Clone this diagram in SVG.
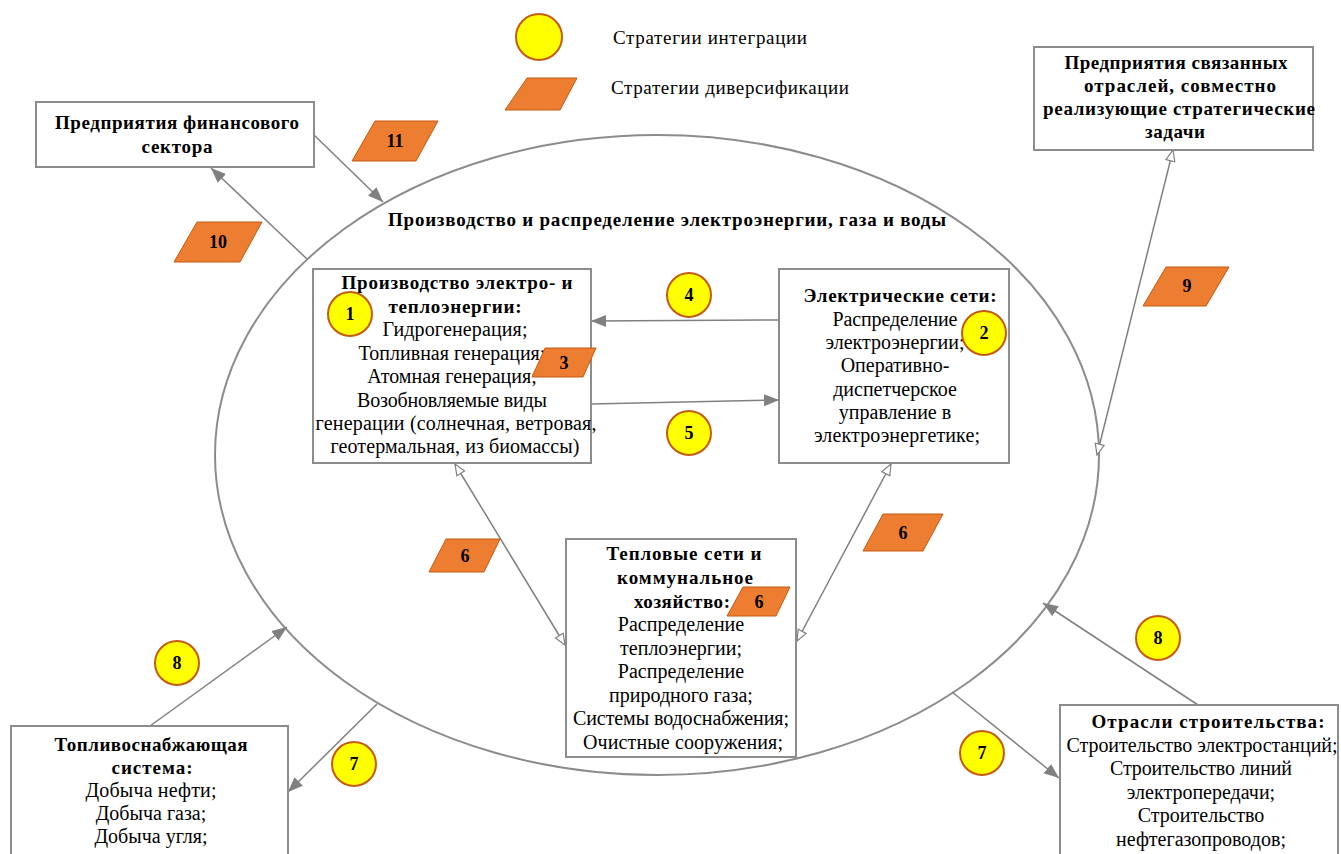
<svg xmlns="http://www.w3.org/2000/svg" width="1341" height="854" viewBox="0 0 1341 854">
<style>
.box{fill:#fff;stroke:#8c8c8c;stroke-width:2}
.t{font-family:"Liberation Serif","Times New Roman",serif;font-size:20px;fill:#000;text-anchor:middle}
.b{font-weight:bold;font-size:19px}
.lg{font-family:"Liberation Serif","Times New Roman",serif;font-size:19px;fill:#000}
.c{fill:#ffff00;stroke:#c55a11;stroke-width:2}
.p{fill:#ed7d31;stroke:#c55a11;stroke-width:1}
.n{font-family:"Liberation Serif","Times New Roman",serif;font-size:18px;font-weight:bold;fill:#000;text-anchor:middle}
.ln{stroke:#808080;stroke-width:1.5;fill:none}
.fa{marker-end:url(#fill)}
.ha{marker-start:url(#hollow);marker-end:url(#hollow)}
</style>
<defs>
<marker id="fill" markerUnits="userSpaceOnUse" markerWidth="16" markerHeight="14" refX="15" refY="7" orient="auto">
<path d="M0,1 L15,7 L0,13 z" fill="#808080"/>
</marker>
<marker id="hollow" markerUnits="userSpaceOnUse" markerWidth="14" markerHeight="12" refX="12" refY="6" orient="auto-start-reverse">
<path d="M1,1.5 L12,6 L1,10.5 z" fill="#fff" stroke="#808080" stroke-width="1.2"/>
</marker>
</defs>

<g id="legend">
<circle class="c" cx="539" cy="37" r="23"/>
<text class="lg" x="613" y="44" textLength="194" lengthAdjust="spacing">Стратегии интеграции</text>
<path class="p" d="M527,78 L577,78 L560,110 L505,110 z"/>
<text class="lg" x="611" y="94" textLength="238" lengthAdjust="spacing">Стратегии диверсификации</text>
</g>

<g id="sector">
<ellipse cx="657" cy="455" rx="442" ry="320" fill="none" stroke="#8c8c8c" stroke-width="2"/>
<text class="t b" x="667" y="226" textLength="558" lengthAdjust="spacing">Производство и распределение электроэнергии, газа и воды</text>
</g>

<g id="connectors">
<line class="ln fa" x1="314" y1="135" x2="383" y2="202"/>
<line class="ln fa" x1="307" y1="259" x2="211" y2="168"/>
<line class="ln fa" x1="779" y1="320" x2="591" y2="321"/>
<line class="ln fa" x1="591" y1="404" x2="779" y2="400"/>
<line class="ln ha" x1="455" y1="464" x2="565" y2="645"/>
<line class="ln ha" x1="891" y1="464" x2="797" y2="641"/>
<line class="ln ha" x1="1097" y1="455" x2="1173" y2="150"/>
<line class="ln fa" x1="150" y1="726" x2="287" y2="627"/>
<line class="ln fa" x1="377" y1="704" x2="288" y2="792"/>
<line class="ln fa" x1="1198" y1="705" x2="1043" y2="603"/>
<line class="ln fa" x1="952" y1="692" x2="1059" y2="778"/>
</g>

<g id="finance">
<rect class="box" x="36" y="102" width="278" height="65"/>
<text class="t b" x="177" y="129" textLength="244" lengthAdjust="spacing">Предприятия финансового</text>
<text class="t b" x="177" y="153" textLength="71" lengthAdjust="spacing">сектора</text>
</g>

<g id="related">
<rect class="box" x="1034" y="47" width="279" height="103"/>
<text class="t b" x="1176" y="69" textLength="223" lengthAdjust="spacing">Предприятия связанных</text>
<text class="t b" x="1180" y="92" textLength="192" lengthAdjust="spacing">отраслей, совместно</text>
<text class="t b" x="1179" y="115" textLength="272" lengthAdjust="spacing">реализующие стратегические</text>
<text class="t b" x="1175" y="138" textLength="60" lengthAdjust="spacing">задачи</text>
</g>

<g id="generation">
<rect class="box" x="313" y="269" width="278" height="194"/>
<text class="t b" x="457" y="289" textLength="231" lengthAdjust="spacing">Производство электро- и</text>
<text class="t b" x="455" y="313" textLength="133" lengthAdjust="spacing">теплоэнергии:</text>
<text class="t" x="455" y="336" textLength="145" lengthAdjust="spacing">Гидрогенерация;</text>
<text class="t" x="452" y="360">Топливная генерация;</text>
<text class="t" x="452" y="383">Атомная генерация;</text>
<text class="t" x="452" y="407" textLength="190" lengthAdjust="spacing">Возобновляемые виды</text>
<text class="t" x="456" y="430" textLength="281" lengthAdjust="spacing">генерации (солнечная, ветровая,</text>
<text class="t" x="455" y="453" textLength="249" lengthAdjust="spacing">геотермальная, из биомассы)</text>
</g>

<g id="grids">
<rect class="box" x="779" y="269" width="230" height="194"/>
<text class="t b" x="900" y="302" textLength="193" lengthAdjust="spacing">Электрические сети:</text>
<text class="t" x="895" y="326" textLength="125" lengthAdjust="spacing">Распределение</text>
<text class="t" x="895" y="349">электроэнергии;</text>
<text class="t" x="895" y="372">Оперативно-</text>
<text class="t" x="895" y="396">диспетчерское</text>
<text class="t" x="895" y="419">управление в</text>
<text class="t" x="897" y="442" textLength="166" lengthAdjust="spacing">электроэнергетике;</text>
</g>

<g id="heat">
<rect class="box" x="566" y="539" width="230" height="218"/>
<text class="t b" x="684" y="560" textLength="155" lengthAdjust="spacing">Тепловые сети и</text>
<text class="t b" x="685" y="584" textLength="136" lengthAdjust="spacing">коммунальное</text>
<text class="t b" x="682" y="608" textLength="96" lengthAdjust="spacing">хозяйство:</text>
<text class="t" x="681" y="631">Распределение</text>
<text class="t" x="681" y="655">теплоэнергии;</text>
<text class="t" x="681" y="678">Распределение</text>
<text class="t" x="681" y="702">природного газа;</text>
<text class="t" x="681" y="725" textLength="216" lengthAdjust="spacing">Системы водоснабжения;</text>
<text class="t" x="683" y="749" textLength="200" lengthAdjust="spacing">Очистные сооружения;</text>
</g>

<g id="fuel">
<rect class="box" x="11" y="726" width="277" height="140"/>
<text class="t b" x="151" y="751" textLength="193" lengthAdjust="spacing">Топливоснабжающая</text>
<text class="t b" x="152" y="774" textLength="81" lengthAdjust="spacing">система:</text>
<text class="t" x="151" y="797" textLength="131" lengthAdjust="spacing">Добыча нефти;</text>
<text class="t" x="151" y="820">Добыча газа;</text>
<text class="t" x="151" y="843">Добыча угля;</text>
</g>

<g id="construction">
<rect class="box" x="1060" y="705" width="278" height="160"/>
<text class="t b" x="1208" y="728" textLength="233" lengthAdjust="spacing">Отрасли строительства:</text>
<text class="t" x="1202" y="752" textLength="271" lengthAdjust="spacing">Строительство электростанций;</text>
<text class="t" x="1201" y="775" textLength="182" lengthAdjust="spacing">Строительство линий</text>
<text class="t" x="1201" y="799">электропередачи;</text>
<text class="t" x="1201" y="822">Строительство</text>
<text class="t" x="1201" y="846">нефтегазопроводов;</text>
</g>

<g id="badges">
<circle class="c" cx="350" cy="314" r="22"/><text class="n" x="350" y="320">1</text>
<circle class="c" cx="984" cy="333" r="22"/><text class="n" x="984" y="339">2</text>
<path class="p" d="M545,348 L596,348 L583,377 L532,377 z"/><text class="n" x="564" y="369">3</text>
<circle class="c" cx="689" cy="295" r="22"/><text class="n" x="689" y="301">4</text>
<circle class="c" cx="689" cy="433" r="22"/><text class="n" x="689" y="439">5</text>
<path class="p" d="M446,539 L500,539 L484,572 L429,572 z"/><text class="n" x="465" y="562">6</text>
<path class="p" d="M743,587 L790,587 L776,616 L727,616 z"/><text class="n" x="759" y="608">6</text>
<path class="p" d="M883,514 L943,514 L923,551 L863,551 z"/><text class="n" x="903" y="539">6</text>
<circle class="c" cx="354" cy="764" r="22"/><text class="n" x="354" y="770">7</text>
<circle class="c" cx="982" cy="753" r="22"/><text class="n" x="982" y="759">7</text>
<circle class="c" cx="177" cy="663" r="22"/><text class="n" x="177" y="669">8</text>
<circle class="c" cx="1158" cy="638" r="22"/><text class="n" x="1158" y="644">8</text>
<path class="p" d="M1166,267 L1229,267 L1206,306 L1143,306 z"/><text class="n" x="1187" y="292">9</text>
<path class="p" d="M197,222 L262,222 L240,262 L174,262 z"/><text class="n" x="218" y="248">10</text>
<path class="p" d="M375,121 L438,121 L416,161 L352,161 z"/><text class="n" x="395" y="147">11</text>
</g>
</svg>
